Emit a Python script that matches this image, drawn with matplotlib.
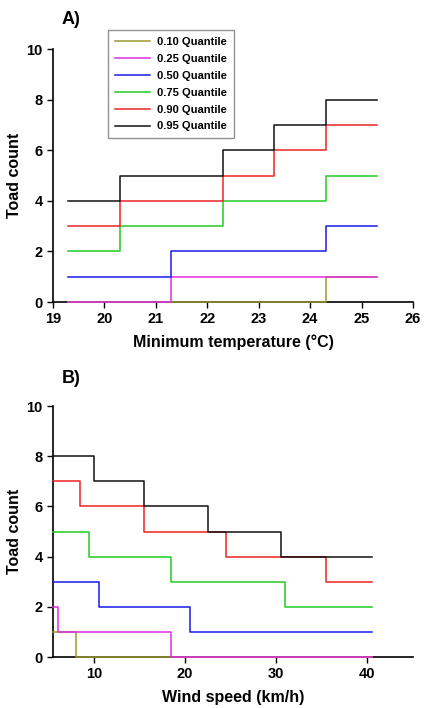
import numpy as np
import matplotlib
matplotlib.use("Agg")
import matplotlib.pyplot as plt

plt.rcParams['font.family'] = ['Liberation Sans', 'DejaVu Sans']
plt.rcParams['font.weight'] = 'bold'

# ── data ──────────────────────────────────────────────────────────────────────
quantile_labels = ['0.10 Quantile', '0.25 Quantile', '0.50 Quantile',
                   '0.75 Quantile', '0.90 Quantile', '0.95 Quantile']
quantile_colors = ['#9c9a2c', '#e02ee0', '#1a1aee', '#22cc22', '#ee2222', '#111111']

# panel A: minimum temperature (step breakpoints, count holds until next x)
temp_x = [19.3, 20.3, 21.3, 22.3, 23.3, 24.3, 25.3]
temp_counts = [
    [0, 0, 0, 0, 0, 1, 1],   # 0.10
    [0, 0, 1, 1, 1, 1, 1],   # 0.25
    [1, 1, 2, 2, 2, 3, 3],   # 0.50
    [2, 3, 3, 4, 4, 5, 5],   # 0.75
    [3, 4, 4, 5, 6, 7, 7],   # 0.90
    [4, 5, 5, 6, 7, 8, 8],   # 0.95
]

# panel B: wind speed, each quantile has its own breakpoints
wind_x = [
    [5.5, 8.0, 40.5],
    [5.5, 6.0, 18.5, 40.5],
    [5.5, 10.5, 20.5, 40.5],
    [5.5, 9.5, 18.5, 31.0, 40.5],
    [5.5, 8.5, 15.5, 24.5, 35.5, 40.5],
    [5.5, 10.0, 15.5, 22.5, 30.5, 40.5],
]
wind_counts = [
    [1, 0, 0],
    [2, 1, 0, 0],
    [3, 2, 1, 1],
    [5, 4, 3, 2, 2],
    [7, 6, 5, 4, 3, 3],
    [8, 7, 6, 5, 4, 4],
]


def style_axes(ax):
    for side in ['top', 'right']:
        ax.spines[side].set_visible(False)
    for side in ['left', 'bottom']:
        ax.spines[side].set_linewidth(1.2)
    ax.tick_params(direction='out', length=4, width=1.0, labelsize=10.5)
    ax.set_ylim(0, 10)
    ax.set_yticks(np.arange(0, 11, 2))
    ax.set_ylabel('Toad count', fontsize=11.5, fontweight='bold', labelpad=3)
    for lab in ax.get_xticklabels() + ax.get_yticklabels():
        lab.set_fontweight('bold')


fig = plt.figure(figsize=(4.24, 7.08), dpi=100)

# ── panel A ───────────────────────────────────────────────────────────────────
ax1 = fig.add_axes([0.125, 0.5734, 0.849, 0.357])
for lab, col, ys in zip(quantile_labels, quantile_colors, temp_counts):
    ax1.step(temp_x, ys, where='post', color=col, lw=1.1, label=lab,
             clip_on=False, zorder=3)
ax1.set_xlim(19, 26)
ax1.set_xticks(np.arange(19, 27, 1))
style_axes(ax1)
ax1.set_xlabel('Minimum temperature (°C)', fontsize=11.5, fontweight='bold', labelpad=6)
leg = ax1.legend(loc='upper left', bbox_to_anchor=(0.153, 1.075), borderaxespad=0,
                 fontsize=8, frameon=True, fancybox=False, handlelength=3.2,
                 labelspacing=0.62, handletextpad=0.6, borderpad=0.6)
leg.get_frame().set_edgecolor('#777777')
leg.get_frame().set_linewidth(1.0)
for t in leg.get_texts():
    t.set_fontweight('bold')
fig.text(0.146, 0.972, 'A)', fontsize=13, fontweight='bold', va='center')

# ── panel B ───────────────────────────────────────────────────────────────────
ax2 = fig.add_axes([0.125, 0.072, 0.849, 0.3545])
for lab, col, xs, ys in zip(quantile_labels, quantile_colors, wind_x, wind_counts):
    ax2.step(xs, ys, where='post', color=col, lw=1.1, label=lab,
             clip_on=False, zorder=3)
ax2.set_xlim(5.5, 45)
ax2.set_xticks([10, 20, 30, 40])
style_axes(ax2)
ax2.set_xlabel('Wind speed (km/h)', fontsize=11.5, fontweight='bold', labelpad=6)
fig.text(0.146, 0.466, 'B)', fontsize=13, fontweight='bold', va='center')

fig.savefig('out.png', dpi=100)
